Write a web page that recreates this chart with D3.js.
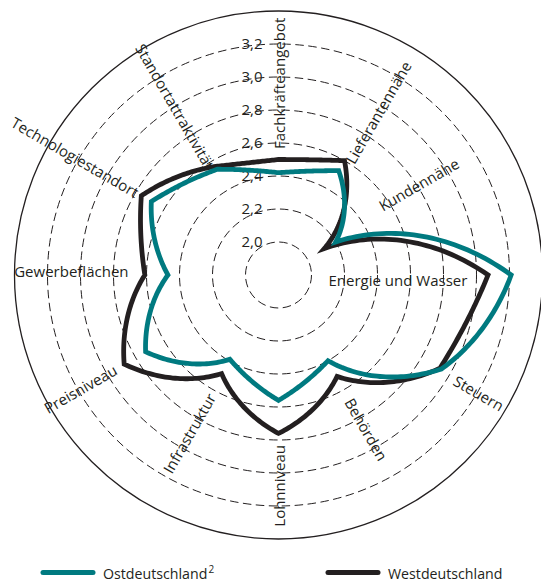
<!DOCTYPE html>
<html><head><meta charset="utf-8">
<script src="https://cdn.jsdelivr.net/npm/d3@7"></script>
<style>
html,body{margin:0;padding:0;background:#fff;}
svg{display:block;font-family:"Open Sans",sans-serif;}
</style></head>
<body>
<svg id="chart" width="541" height="585"></svg>
<script>
// ---- data ----
const axes = ["Fachkräfteangebot","Lieferantennähe","Kundennähe","Energie und Wasser","Steuern","Behörden","Lohnniveau","Infrastruktur","Preisniveau","Gewerbeflächen","Technologiestandort","Standortattraktivität"];
const ostValues  = [2.42,2.53,2.20,3.21,2.94,2.40,2.56,2.39,2.73,2.47,2.69,2.54];
const westValues = [2.50,2.60,2.12,3.07,2.93,2.51,2.76,2.49,2.88,2.61,2.76,2.56];
const ringValues = [2.0,2.2,2.4,2.6,2.8,3.0,3.2];
const tickLabels = ["2,0","2,2","2,4","2,6","2,8","3,0","3,2"];
const seriesNames = ["Ostdeutschland","Westdeutschland"];

// ---- layout ----
const cx = 278.5, cy = 275, R = 264;
const teal = "#007a80", dark = "#231f20";
// inner radius of each axis label (px) and baseline offset (px)
const labelLayout = [
 {r0:126, dy:6.5},{r0:133, dy:11},{r0:122, dy:-2.5},{r0:50, dy:11},
 {r0:205, dy:8},{r0:143, dy:7},{r0:170, dy:6.5},{r0:137, dy:7.7},
 {r0:188, dy:5.4},{r0:150, dy:1.5},{r0:163, dy:5.4},{r0:127, dy:11}
];

const svg = d3.select("#chart");
const r = d3.scaleLinear().domain([1.8, 3.4]).range([0, R]);
const ang = i => i * 2*Math.PI/axes.length;

const g = svg.append("g").attr("transform", `translate(${cx},${cy})`);

// rings
g.selectAll("circle.ring").data(ringValues).join("circle")
  .attr("class","ring").attr("r", d => r(d))
  .attr("fill","none").attr("stroke", dark).attr("stroke-width",1)
  .attr("stroke-dasharray","8.5,4.5");
g.append("circle").attr("r", r(3.4)).attr("fill","none")
  .attr("stroke", dark).attr("stroke-width",1.3);

// tick labels
g.selectAll("text.tick").data(ringValues).join("text")
  .attr("class","tick")
  .attr("x", -16).attr("y", d => -r(d))
  .attr("dy","0.36em")
  .attr("text-anchor","end")
  .attr("font-size",15).attr("fill", dark)
  .text((d,i) => tickLabels[i]);

// axis labels
axes.forEach((name,i) => {
  const a = ang(i), deg = a*180/Math.PI;
  const L = labelLayout[i];
  const px = L.r0*Math.sin(a), py = -L.r0*Math.cos(a);
  const right = deg < 179;
  const rot = right ? deg - 90 : deg - 270;
  g.append("text")
    .attr("transform", `translate(${px},${py}) rotate(${rot})`)
    .attr("y", L.dy)
    .attr("text-anchor", right ? "start" : "end")
    .attr("font-size",15).attr("fill", dark)
    .text(name);
});

// closed curve: blends straight chords with polar (spiral) arcs, the more
// the radius changes between neighbouring axes, the more it follows the spiral
function curvePolarClosed(context){
  let pts = [];
  return {
    areaStart(){}, areaEnd(){},
    lineStart(){ pts = []; },
    point(x,y){ pts.push([x,y]); },
    lineEnd(){
      const n = pts.length; if(!n) return;
      const pol = pts.map(([x,y]) => [Math.atan2(x,-y), Math.hypot(x,y)]);
      context.moveTo(pts[0][0], pts[0][1]);
      for(let i=0;i<n;i++){
        const j = (i+1)%n;
        const [a1,r1] = pol[i], [a2,r2] = pol[j];
        let da = a2 - a1;
        while(da > Math.PI) da -= 2*Math.PI;
        while(da <= -Math.PI) da += 2*Math.PI;
        const w = Math.max(0, Math.min(1, (Math.abs(r2-r1) - 15)/25));
        const steps = 40;
        for(let k=1;k<=steps;k++){
          const t = k/steps, aa = a1 + da*t, rr = r1 + (r2-r1)*t;
          const sx = rr*Math.sin(aa), sy = -rr*Math.cos(aa);
          const lx = pts[i][0] + (pts[j][0]-pts[i][0])*t;
          const ly = pts[i][1] + (pts[j][1]-pts[i][1])*t;
          context.lineTo(lx + (sx-lx)*w, ly + (sy-ly)*w);
        }
      }
      context.closePath();
    }
  };
}

const line = d3.lineRadial()
  .angle((d,i) => ang(i))
  .radius(d => r(d))
  .curve(curvePolarClosed);

g.append("path").datum(westValues).attr("d", line)
  .attr("fill","none").attr("stroke", dark).attr("stroke-width",4.8)
  .attr("stroke-linejoin","miter").attr("stroke-miterlimit",10);
g.append("path").datum(ostValues).attr("d", line)
  .attr("fill","none").attr("stroke", teal).attr("stroke-width",4.8)
  .attr("stroke-linejoin","miter").attr("stroke-miterlimit",10);

// legend
const legend = [
  {name: seriesNames[0], color: teal, x: 43, sup: "2"},
  {name: seriesNames[1], color: dark, x: 328, sup: null}
];
legend.forEach(l => {
  svg.append("line").attr("x1", l.x).attr("x2", l.x+50)
    .attr("y1", 572.5).attr("y2", 572.5)
    .attr("stroke", l.color).attr("stroke-width",5).attr("stroke-linecap","round");
  const t = svg.append("text").attr("x", l.x+60).attr("y", 579)
    .attr("font-size",14.2).attr("fill", dark).text(l.name);
  if(l.sup) t.append("tspan").attr("font-size",10).attr("dx",1).attr("dy",-6).text(l.sup);
});
</script>
</body></html>
